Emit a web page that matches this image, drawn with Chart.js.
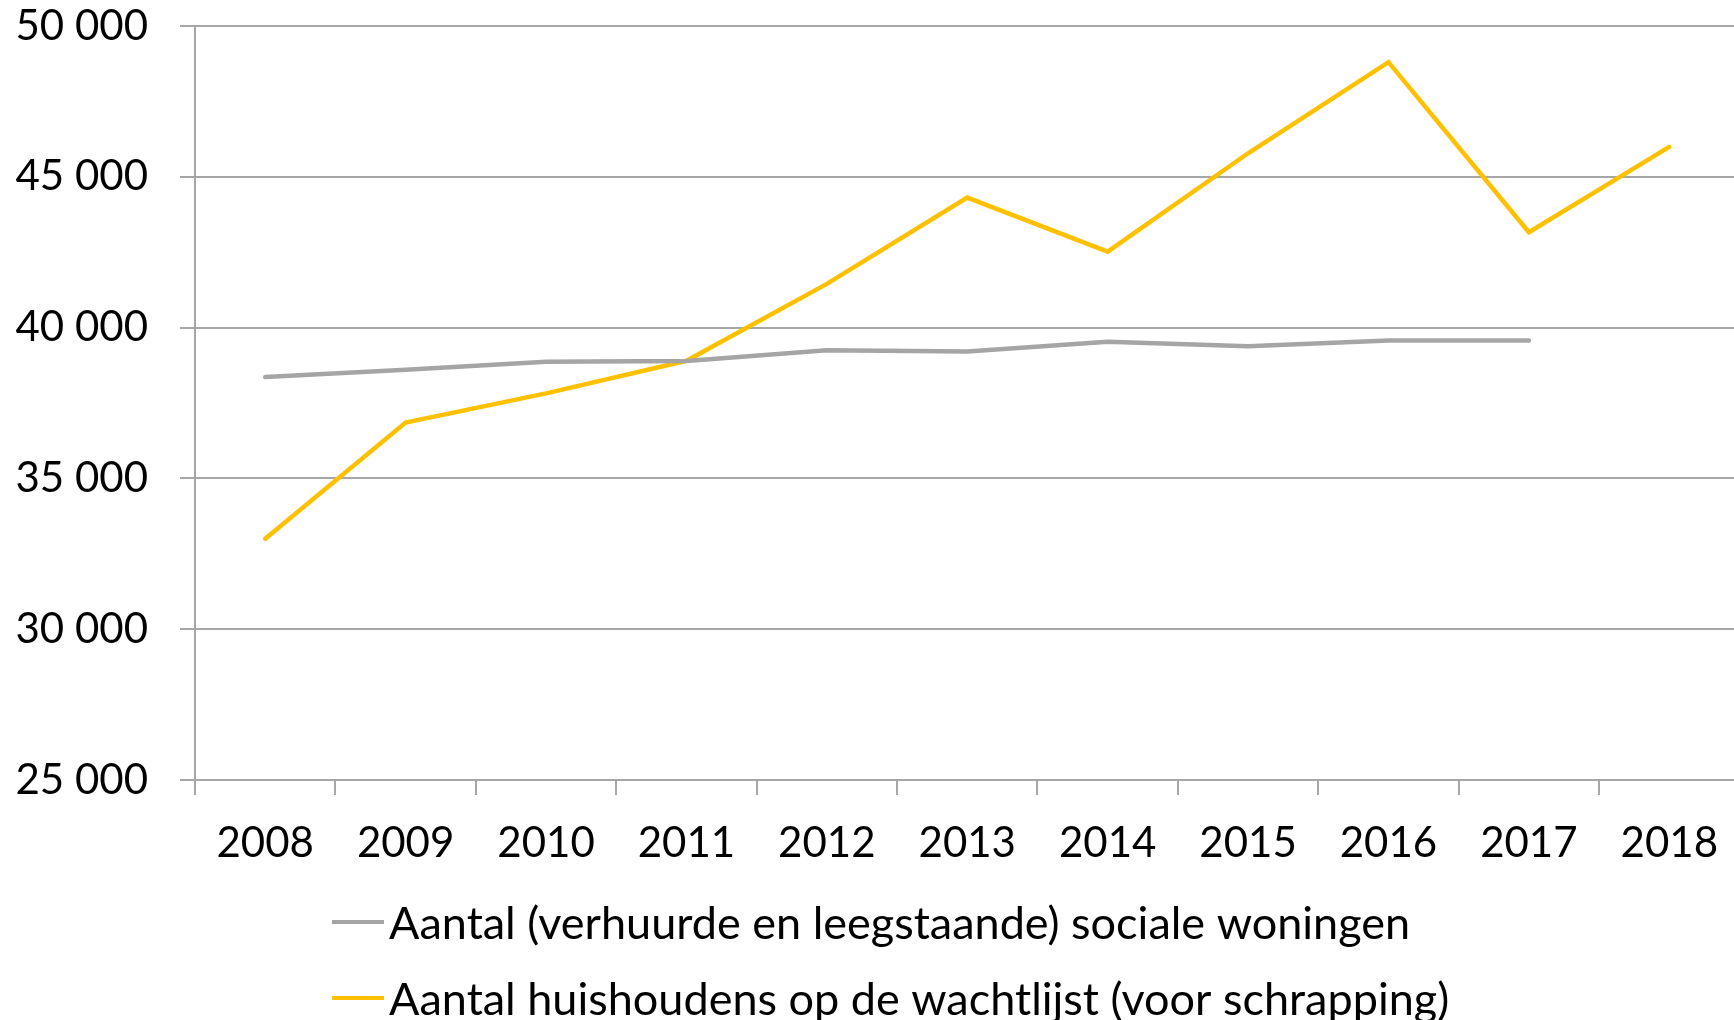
<!DOCTYPE html>
<html>
<head>
<meta charset="utf-8">
<script src="https://cdn.jsdelivr.net/npm/chart.js@4.4.1/dist/chart.umd.min.js"></script>
<style>
  html, body { margin: 0; padding: 0; background: #ffffff; overflow: hidden; }
  #wrap { position: relative; width: 1741px; height: 1020px; }
</style>
</head>
<body>
<div id="wrap"><canvas id="c"></canvas></div>
<script>
const years = ['2008','2009','2010','2011','2012','2013','2014','2015','2016','2017','2018'];
const socialeWoningen = [38360, 38600, 38870, 38890, 39250, 39210, 39530, 39380, 39570, 39570, null];
const wachtlijst = [33000, 36850, 37820, 38900, 41450, 44310, 42520, 45780, 48800, 43160, 45990];
const seriesLabels = [
  'Aantal (verhuurde en leegstaande) sociale woningen',
  'Aantal huishoudens op de wachtlijst (voor schrapping)'
];
const yMin = 25000, yMax = 50000, yStep = 5000;

const FONT = 'Lato, "Open Sans", sans-serif';
const GRID = '#a6a6a6';
const GREY = '#a5a5a5';
const YELLOW = '#ffc000';

function fmt(v) { return String(v).replace(/\B(?=(\d{3})+(?!\d))/g, ' '); }

const customLegend = {
  id: 'customLegend',
  afterDraw(chart) {
    const ctx = chart.ctx;
    const rows = [922, 998];
    const x0 = 332, x1 = 384, tx = 389;
    ctx.save();
    chart.data.datasets.forEach((ds, i) => {
      const y = rows[i];
      ctx.strokeStyle = ds.borderColor;
      ctx.lineWidth = 4;
      ctx.lineCap = 'butt';
      ctx.beginPath();
      ctx.moveTo(x0, y);
      ctx.lineTo(x1, y);
      ctx.stroke();
      ctx.fillStyle = '#000000';
      ctx.font = '45px ' + FONT;
      ctx.textBaseline = 'middle';
      ctx.textAlign = 'left';
      ctx.fillText(ds.label, tx, y + 2);
    });
    ctx.restore();
  }
};

new Chart(document.getElementById('c'), {
  type: 'line',
  data: {
    labels: years,
    datasets: [
      { label: seriesLabels[0], data: socialeWoningen, borderColor: GREY, backgroundColor: GREY,
        borderWidth: 4.5, pointRadius: 0, tension: 0, borderCapStyle: 'round', spanGaps: false },
      { label: seriesLabels[1], data: wachtlijst, borderColor: YELLOW, backgroundColor: YELLOW,
        borderWidth: 4.5, pointRadius: 0, tension: 0, borderCapStyle: 'round' }
    ]
  },
  options: {
    responsive: true,
    maintainAspectRatio: false,
    animation: false,
    layout: { padding: { top: 26, right: 0, bottom: 133, left: 0 } },
    plugins: {
      legend: { display: false },
      tooltip: { enabled: false }
    },
    scales: {
      x: {
        offset: true,
        afterFit(scale) { scale.height = 107; },
        grid: { display: true, drawOnChartArea: false, drawTicks: true, tickLength: 15, offset: true, color: GRID, lineWidth: 2 },
        border: { display: true, color: GRID, width: 2 },
        ticks: { color: '#000000', font: { family: FONT, size: 42 }, padding: 23, maxRotation: 0, autoSkip: false }
      },
      y: {
        min: yMin, max: yMax,
        afterFit(scale) { scale.width = 195; scale.paddingTop = 0; scale.paddingBottom = 0; },
        grid: { color: GRID, lineWidth: 2, drawTicks: true, tickLength: 15 },
        border: { display: true, color: GRID, width: 2 },
        ticks: { stepSize: yStep, color: '#000000', font: { family: FONT, size: 42 }, padding: 32,
          callback: (v) => fmt(v) }
      }
    }
  },
  plugins: [customLegend]
});
</script>
</body>
</html>
